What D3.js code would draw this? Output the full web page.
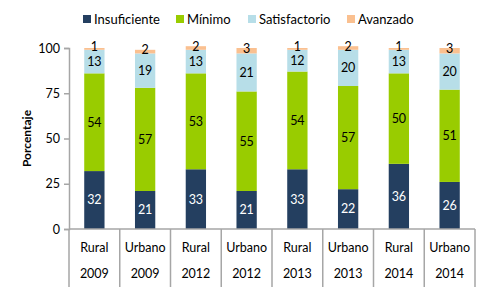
<!DOCTYPE html>
<html>
<head>
<meta charset="utf-8">
<script src="https://cdn.jsdelivr.net/npm/d3@7"></script>
<style>
  body { margin: 0; background: #fff; }
  svg text { font-family: Lato, "Open Sans", sans-serif; }
</style>
</head>
<body>
<div id="container"></div>
<script>
const areas = ["Rural", "Urbano", "Rural", "Urbano", "Rural", "Urbano", "Rural", "Urbano"]
const years = ["2009", "2009", "2012", "2012", "2013", "2013", "2014", "2014"]
const levels = ["Insuficiente", "Mínimo", "Satisfactorio", "Avanzado"]
const insuficiente = [32, 21, 33, 21, 33, 22, 36, 26]
const minimo = [54, 57, 53, 55, 54, 57, 50, 51]
const satisfactorio = [13, 19, 13, 21, 12, 20, 13, 20]
const avanzado = [1, 2, 2, 3, 1, 2, 1, 3]
const yTicks = [0, 25, 50, 75, 100]

const colors = ["#243f60", "#99cc00", "#b7dee8", "#fac090"]
const labelColors = ["#fff", "#000", "#000", "#000"]

const W = 490, H = 287
const margin = { top: 48, right: 15, bottom: 58, left: 69 }
const width = W - margin.left - margin.right
const height = H - margin.top - margin.bottom

// one row per bar
const rows = areas.map((a, i) => ({
    key: i,
    area: a,
    year: years[i],
    Insuficiente: insuficiente[i],
    "Mínimo": minimo[i],
    Satisfactorio: satisfactorio[i],
    Avanzado: avanzado[i]
}))
const series = d3.stack().keys(levels)(rows)

const x = d3.scaleBand()
    .domain(rows.map(d => d.key))
    .range([0, width])
    .paddingInner(0.6)
    .paddingOuter(0.3)

const y = d3.scaleLinear()
    .domain([0, 100])
    .range([height, 0])

const svg = d3.select("#container")
    .append("svg")
    .attr("width", W)
    .attr("height", H)

const g = svg.append("g")
    .attr("transform", `translate(${margin.left}, ${margin.top})`)

/* BARS */
const layer = g.selectAll(".layer")
    .data(series)
    .join("g")
    .attr("class", "layer")
    .attr("fill", (d, i) => colors[i])

layer.selectAll("rect")
    .data(d => d)
    .join("rect")
    .attr("x", d => x(d.data.key))
    .attr("width", x.bandwidth())
    .attr("y", d => y(d[1]))
    .attr("height", d => y(d[0]) - y(d[1]))

/* VALUE LABELS */
series.forEach((s, si) => {
    g.selectAll(".lab" + si)
        .data(s)
        .join("text")
        .attr("x", d => x(d.data.key) + x.bandwidth() / 2)
        .attr("y", d => y((d[0] + d[1]) / 2))
        .attr("dy", si === 3 ? "0.2em" : "0.35em")
        .attr("text-anchor", "middle")
        .attr("fill", labelColors[si])
        .style("font-size", "12.5px")
        .text(d => d.data[s.key])
})

/* Y AXIS */
const yAxis = g.append("g")
    .call(d3.axisLeft(y).tickValues(yTicks).tickSize(5).tickPadding(4))
yAxis.select(".domain").attr("stroke", "#a6a6a6").attr("stroke-width", 1.5)
yAxis.selectAll(".tick line").attr("stroke", "#a6a6a6").attr("stroke-width", 1.5)
yAxis.selectAll(".tick text").style("font-size", "12.5px").attr("fill", "#000")

/* X AXIS with category separators */
const step = width / rows.length
const xAxis = g.append("g").attr("transform", `translate(0, ${height})`)
xAxis.append("line")
    .attr("x1", 0).attr("x2", width)
    .attr("stroke", "#a6a6a6").attr("stroke-width", 1.5)
xAxis.selectAll(".sep")
    .data(d3.range(rows.length + 1))
    .join("line")
    .attr("x1", d => d * step).attr("x2", d => d * step)
    .attr("y1", 0).attr("y2", 58)
    .attr("stroke", "#a6a6a6").attr("stroke-width", 1.5)
xAxis.selectAll(".area")
    .data(rows)
    .join("text")
    .attr("x", d => x(d.key) + x.bandwidth() / 2)
    .attr("y", 23)
    .attr("text-anchor", "middle")
    .style("font-size", "12.5px")
    .text(d => d.area)
xAxis.selectAll(".year")
    .data(rows)
    .join("text")
    .attr("x", d => x(d.key) + x.bandwidth() / 2)
    .attr("y", 49)
    .attr("text-anchor", "middle")
    .style("font-size", "12.5px")
    .text(d => d.year)

/* Y TITLE */
svg.append("text")
    .attr("transform", `translate(31, ${margin.top + height / 2}) rotate(-90)`)
    .attr("text-anchor", "middle")
    .style("font-size", "12px")
    .style("font-weight", "bold")
    .text("Porcentaje")

/* LEGEND */
const legendX = [83, 176, 248, 347]
const legend = svg.selectAll(".legend")
    .data(levels)
    .join("g")
    .attr("transform", (d, i) => `translate(${legendX[i]}, 15)`)
legend.append("rect")
    .attr("width", 8).attr("height", 8)
    .attr("fill", (d, i) => colors[i])
legend.append("text")
    .attr("x", 11).attr("y", 8.5)
    .style("font-size", "13px")
    .text(d => d)
</script>
</body>
</html>
